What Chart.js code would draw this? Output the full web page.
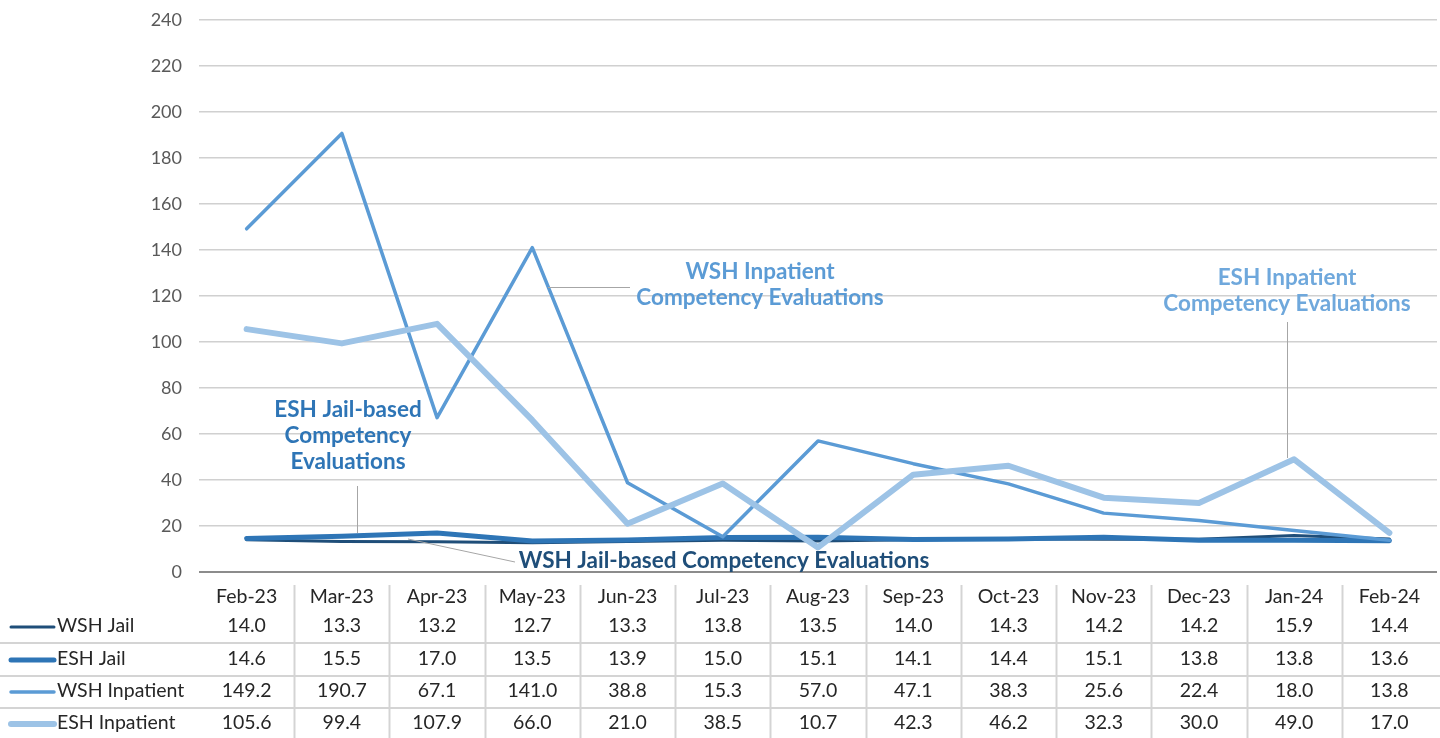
<!DOCTYPE html>
<html>
<head>
<meta charset="utf-8">
<script src="https://cdn.jsdelivr.net/npm/chart.js@4"></script>
<style>
html,body{margin:0;padding:0;background:#fff;}
#wrap{width:1440px;height:738px;position:relative;}
</style>
</head>
<body>
<div id="wrap"><canvas id="c" width="1440" height="738"></canvas></div>
<script>
const categories = ["Feb-23","Mar-23","Apr-23","May-23","Jun-23","Jul-23","Aug-23","Sep-23","Oct-23","Nov-23","Dec-23","Jan-24","Feb-24"];
const wshJail = [14.0,13.3,13.2,12.7,13.3,13.8,13.5,14.0,14.3,14.2,14.2,15.9,14.4];
const eshJail = [14.6,15.5,17.0,13.5,13.9,15.0,15.1,14.1,14.4,15.1,13.8,13.8,13.6];
const wshInpatient = [149.2,190.7,67.1,141.0,38.8,15.3,57.0,47.1,38.3,25.6,22.4,18.0,13.8];
const eshInpatient = [105.6,99.4,107.9,66.0,21.0,38.5,10.7,42.3,46.2,32.3,30.0,49.0,17.0];
const seriesNames = ["WSH Jail","ESH Jail","WSH Inpatient","ESH Inpatient"];
const yTicks = [0,20,40,60,80,100,120,140,160,180,200,220,240];

const FONT = "Lato, 'Open Sans', sans-serif";
const colors = ["#1F4E79","#2E75B6","#5B9BD5","#9DC3E6"];
const widths = [3,5,3.5,6];

const tablePlugin = {
  id: 'dataTable',
  afterDraw(chart) {
    const ctx = chart.ctx;
    const xs = chart.scales.x;
    const area = chart.chartArea;
    const cellW = xs.getPixelForValue(1) - xs.getPixelForValue(0);
    const rowsY = [626, 659, 691, 723];
    const headerY = 597;
    ctx.save();
    ctx.strokeStyle = "#d4d4d4";
    ctx.lineWidth = 2;
    for (let i = 1; i < categories.length; i++) {
      const x = Math.round(xs.getPixelForValue(i) - cellW / 2) + 0.5;
      ctx.beginPath(); ctx.moveTo(x, 585); ctx.lineTo(x, 738); ctx.stroke();
    }
    [643, 676, 708].forEach(y => {
      ctx.beginPath(); ctx.moveTo(0, y); ctx.lineTo(area.right + 3, y); ctx.stroke();
    });
    ctx.fillStyle = "#262626";
    ctx.font = "19.5px " + FONT;
    ctx.textAlign = "center";
    ctx.textBaseline = "middle";
    categories.forEach((c, i) => ctx.fillText(c, xs.getPixelForValue(i), headerY));
    const data = [wshJail, eshJail, wshInpatient, eshInpatient];
    data.forEach((arr, r) => {
      const y = rowsY[r];
      ctx.textAlign = "center";
      arr.forEach((v, i) => ctx.fillText(v.toFixed(1), xs.getPixelForValue(i), y));
      ctx.strokeStyle = colors[r];
      ctx.lineWidth = widths[r];
      ctx.lineCap = "round";
      ctx.beginPath(); ctx.moveTo(11, y + 1); ctx.lineTo(54, y + 1); ctx.stroke();
      ctx.textAlign = "left";
      ctx.fillText(seriesNames[r], 57, y);
    });
    ctx.restore();
  }
};

const annotPlugin = {
  id: 'annots',
  afterDatasetsDraw(chart) {
    const ctx = chart.ctx;
    ctx.save();
    ctx.strokeStyle = "#a6a6a6";
    ctx.lineWidth = 1;
    const lines = [
      [548, 287.5, 630, 287.5],
      [357.5, 486, 357.5, 533],
      [408, 539, 515, 562],
      [1287.5, 322, 1287.5, 458]
    ];
    lines.forEach(l => { ctx.beginPath(); ctx.moveTo(l[0], l[1]); ctx.lineTo(l[2], l[3]); ctx.stroke(); });
    ctx.font = "bold 22.5px " + FONT;
    ctx.textAlign = "center";
    ctx.textBaseline = "middle";
    const labels = [
      {t: ["WSH Inpatient", "Competency Evaluations"], x: 760, y: 272, c: "#5B9BD5"},
      {t: ["ESH Jail-based", "Competency", "Evaluations"], x: 348, y: 410, c: "#2E75B6"},
      {t: ["WSH Jail-based Competency Evaluations"], x: 724, y: 561, c: "#1F4E79"},
      {t: ["ESH Inpatient", "Competency Evaluations"], x: 1287, y: 278, c: "#6FA8DC"}
    ];
    labels.forEach(L => {
      ctx.fillStyle = L.c;
      L.t.forEach((s, k) => ctx.fillText(s, L.x, L.y + k * 26));
    });
    ctx.restore();
  }
};

const datasets = [wshJail, eshJail, wshInpatient, eshInpatient].map((arr, i) => ({
  label: seriesNames[i],
  data: arr,
  borderColor: colors[i],
  backgroundColor: colors[i],
  borderWidth: widths[i],
  pointRadius: 0,
  tension: 0,
  borderCapStyle: 'round',
  borderJoinStyle: 'round',
  order: 3 - i
}));

new Chart(document.getElementById('c'), {
  type: 'line',
  data: { labels: categories, datasets },
  options: {
    responsive: false,
    animation: false,
    layout: { padding: { left: 0, right: 3, top: 20, bottom: 166 } },
    plugins: { legend: { display: false }, tooltip: { enabled: false } },
    scales: {
      x: {
        offset: true,
        display: false
      },
      y: {
        min: 0, max: 240,
        afterBuildTicks(scale) { scale.ticks = yTicks.map(v => ({ value: v })); },
        afterFit(scale) { scale.width = 199; scale.paddingTop = 0; scale.paddingBottom = 0; },
        ticks: { color: "#595959", font: { family: FONT, size: 18 }, padding: 17 },
        grid: {
          drawTicks: false,
          color: ctx => ctx.tick && ctx.tick.value === 0 ? "#8c8c8c" : "#d0d0d0",
          lineWidth: ctx => ctx.tick && ctx.tick.value === 0 ? 2 : 1.5
        },
        border: { display: false }
      }
    }
  },
  plugins: [tablePlugin, annotPlugin]
});
</script>
</body>
</html>
